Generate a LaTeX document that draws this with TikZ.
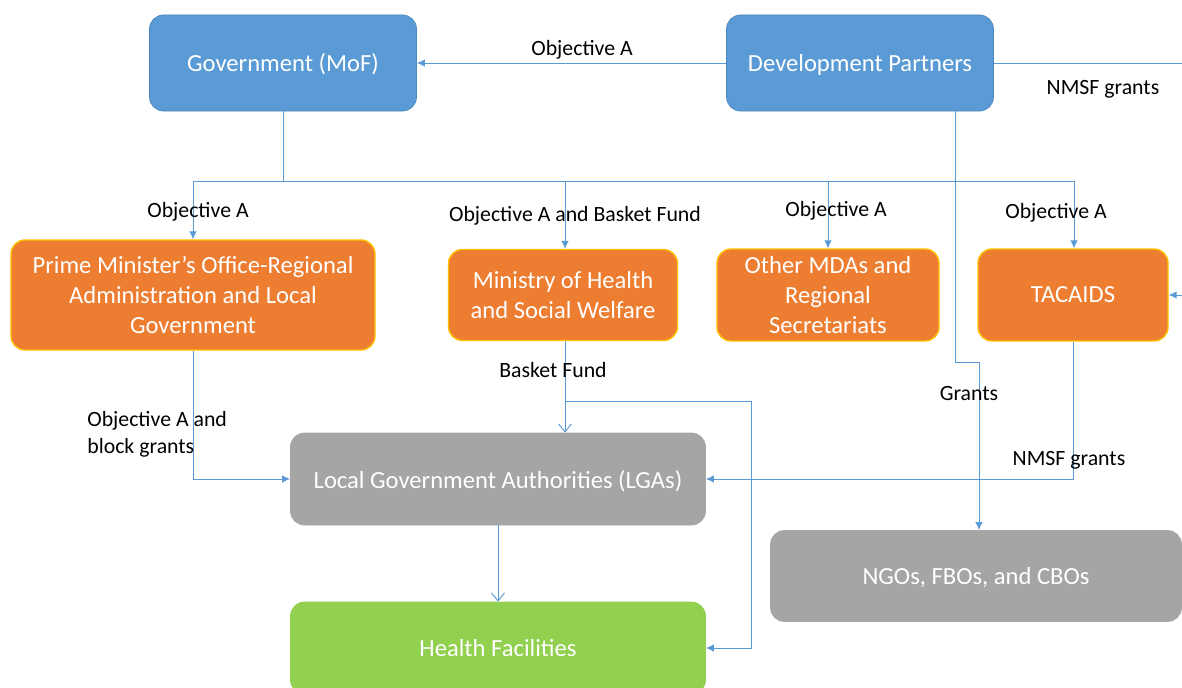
\documentclass[tikz,border=0pt]{standalone}
\usepackage{fontspec}
\setmainfont{Carlito}
\usetikzlibrary{arrows.meta}
\definecolor{dpblue}{HTML}{5B9BD5}
\definecolor{dpedge}{HTML}{4A86C0}
\definecolor{mohorange}{HTML}{ED7D31}
\definecolor{mohedge}{HTML}{FFC000}
\definecolor{lgagray}{HTML}{A5A5A5}
\definecolor{hfgreen}{HTML}{92D050}
\definecolor{flowline}{HTML}{5B9BD5}

\begin{document}
\begin{tikzpicture}[
  x=0.2mm, y=-0.2mm,
  >={Latex[length=1.6mm,width=1.5mm]},
  every node/.style={font=\fontsize{12.4}{15}\selectfont},
  fund/.style={draw=flowline,line width=0.55pt},
  opentip/.style={-{Straight Barb[length=1.6mm,width=2.6mm]}},
  lbl/.style={text=black,text height=0.62em,text depth=0.1em,inner sep=0pt,yshift=-0.5mm},
  donorbox/.style={draw=dpedge,fill=dpblue,rounded corners=2.8mm,text=white,text depth=0pt,minimum width=53.4mm,minimum height=19.2mm,font=\fontsize{14}{17}\selectfont},
  govbox/.style={draw=mohedge,line width=0.8pt,fill=mohorange,rounded corners=2.8mm,text=white,align=center,minimum height=18.4mm,font=\fontsize{14}{17}\selectfont},
  lgabox/.style={draw=lgagray,fill=lgagray,rounded corners=2.8mm,text=white,text depth=0pt,minimum width=83mm,minimum height=18.4mm,font=\fontsize{14}{17}\selectfont},
  hfbox/.style={draw=hfgreen,fill=hfgreen,rounded corners=2.8mm,text=white,minimum width=83mm,minimum height=18.4mm,font=\fontsize{14}{17}\selectfont}
]
\useasboundingbox (0,0) rectangle (1182,688);
\clip (0,0) rectangle (1182,688);
\fill[white] (0,0) rectangle (1182,688);

% funders
\node[donorbox] (gov) at (283,63) {Government (MoF)};
\node[donorbox] (dp) at (860,63) {Development Partners};

% implementing agencies
\node[govbox,minimum width=72.8mm,minimum height=22mm] (pmo) at (193,295) {Prime Minister’s Office-Regional\\Administration and Local\\Government};
\node[govbox,minimum width=45.8mm,minimum height=18.2mm] (moh) at (563,295) {Ministry of Health\\and Social Welfare};
\node[govbox,minimum width=44.4mm] (mda) at (828,295) {Other MDAs and\\Regional\\Secretariats};
\node[govbox,minimum width=38mm,text depth=0pt] (tac) at (1073,295) {TACAIDS};

% recipients
\node[lgabox] (lga) at (498,479) {Local Government Authorities (LGAs)};
\node[lgabox,minimum width=82.2mm,minimum height=18.2mm] (ngo) at (976,576) {NGOs, FBOs, and CBOs};
\node[hfbox] (hf) at (498,648) {Health Facilities};

\coordinate (bus) at (283,181);
\coordinate (gbend) at (979,362);
\coordinate (bfsplit) at (565,401);
\coordinate (bfturn) at (751,401);

\draw[fund,->] (dp.west) -- (gov.east);
\draw[fund,->] (dp.east) -- (1195,63) |- (tac.east);
\draw[fund] (gov.south) -- (bus);
\draw[fund,->] (bus) -| (pmo.north);
\draw[fund,->] (bus) -| ([xshift=0.4mm]moh.north);
\draw[fund,->] (bus) -| (mda.north);
\draw[fund,->] (bus) -| ([xshift=0.2mm]tac.north);
\draw[fund,->] ([xshift=19mm]dp.south) |- (gbend) -- (gbend |- ngo.north);
\draw[fund,->] (tac.south) |- (lga.east);
\draw[fund,->] (pmo.south) |- (lga.west);
\draw[fund,opentip] ([xshift=0.4mm]moh.south) -- (bfsplit |- lga.north);
\draw[fund,->] (bfsplit) -- (bfturn) |- (hf.east);
\draw[fund,opentip] (lga.south) -- (hf.north);

% flow labels
\node[lbl] (objdp) at (582,48) {Objective A};
\node[lbl] (nmsftop) at (1103,87) {NMSF grants};
\node[lbl] (objpmo) at (198,210) {Objective A};
\node[lbl] (objmoh) at (575,214) {Objective A and Basket Fund};
\node[lbl] (objmda) at (836,209) {Objective A};
\node[lbl] (objtac) at (1056,211) {Objective A};
\node[lbl] (bfmoh) at (553,370) {Basket Fund};
\node[lbl,align=left,anchor=west] (objblock) at (87,446) {Objective A and\\block grants};
\node[lbl] (grants) at (969,393) {Grants};
\node[lbl] (nmsftac) at (1069,458) {NMSF grants};
\end{tikzpicture}
\end{document}
